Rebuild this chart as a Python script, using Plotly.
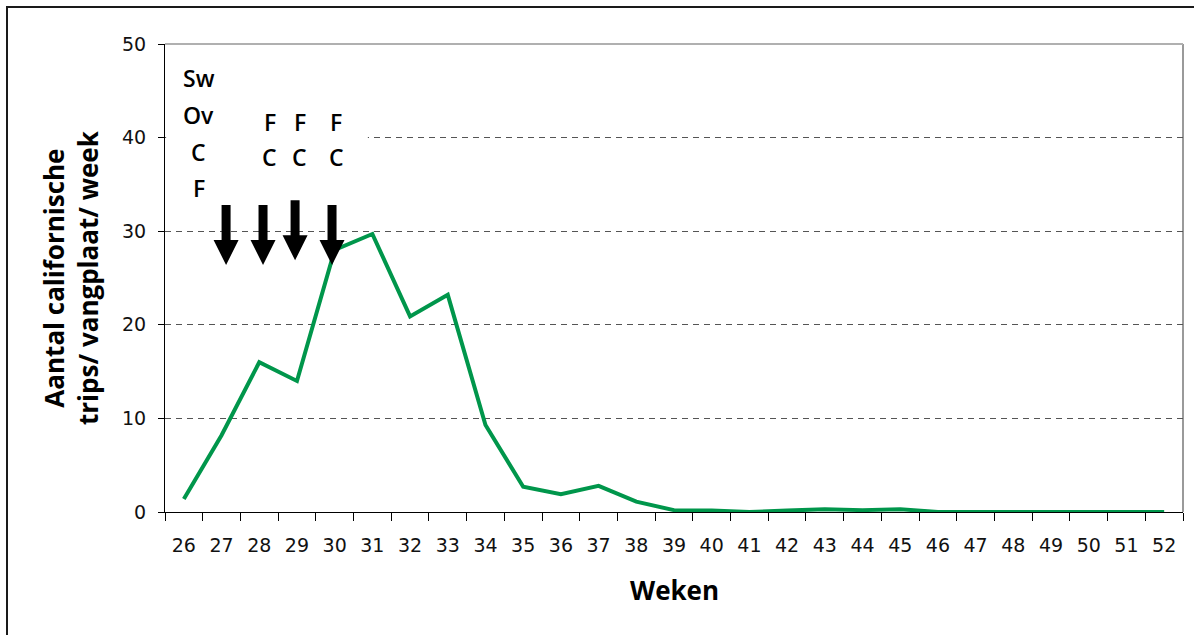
import plotly.graph_objects as go

# Weekly catches of Californian thrips per sticky trap
weeks = [str(w) for w in range(26, 53)]
thrips = [1.4, 8.2, 16.0, 14.0, 28.0, 29.7, 20.9, 23.2, 9.3, 2.7, 1.9, 2.8, 1.1,
          0.2, 0.15, 0.0, 0.15, 0.3, 0.2, 0.3, 0.0, 0.0, 0.1, 0.1, 0.0, 0.0, 0.0]
y_ticks = [0, 10, 20, 30, 40, 50]

# Treatment labels (week position, height in catch units)
left_labels = ["Sw", "Ov", "C", "F"]
left_week = 26.4
left_y = [46.4, 42.4, 38.5, 34.6]
col_weeks = [28.28, 29.08, 30.04]
row_labels = ["F", "C"]
row_y = [41.7, 37.9]

# Treatment moments (arrows)
arrow_weeks = [27.12, 28.1, 28.95, 29.93]
arrow_top = [32.8, 32.8, 33.3, 32.8]

W, H = 1194, 635
ML, MR, MT, MB = 165, 11, 44, 123
PW, PH = W - ML - MR, H - MT - MB


def px_x(px):
    return (px - ML) / PW


def px_y(py):
    return (H - MB - py) / PH


FONT = "Open Sans"
TICK_FONT = "DejaVu Sans"
GREEN = "#00964B"

fig = go.Figure()
fig.add_trace(go.Scatter(
    x=weeks, y=thrips, mode="lines",
    line=dict(color=GREEN, width=4), hoverinfo="skip", showlegend=False,
))

shapes = []
# white panel behind the treatment labels
shapes.append(dict(type="rect", xref="x", yref="y", x0=-0.47, x1=4.88, y0=34.2, y1=47.5,
                   fillcolor="white", line=dict(width=0), layer="between"))
# gray plot-area border (top and right)
shapes.append(dict(type="line", xref="paper", yref="paper", x0=1, x1=1, y0=0, y1=1,
                   line=dict(color="#9a9a9a", width=2), layer="below"))
shapes.append(dict(type="line", xref="paper", yref="paper", x0=0, x1=1, y0=1, y1=1,
                   line=dict(color="#b0b0b0", width=2), layer="below"))
# outer frame
shapes.append(dict(type="path", xref="paper", yref="paper",
                   path=f"M {px_x(7)},{px_y(640)} L {px_x(7)},{px_y(7)} L {px_x(1200)},{px_y(7)}",
                   line=dict(color="#1a1a1a", width=2)))
# treatment arrows
arrow_path = "M -4.5,0 L 4.5,0 L 4.5,-35 L 12.5,-35 L 0,-60 L -12.5,-35 L -4.5,-35 Z"
for wk, top in zip(arrow_weeks, arrow_top):
    shapes.append(dict(type="path", xref="x", yref="y",
                       xsizemode="pixel", ysizemode="pixel",
                       xanchor=wk - 26, yanchor=top,
                       path=arrow_path, fillcolor="black",
                       line=dict(width=0), layer="above"))

annotations = []
lab_font = dict(family=FONT, size=23, color="black", weight=600)
for txt, yv in zip(left_labels, left_y):
    annotations.append(dict(x=left_week - 26, y=yv, xref="x", yref="y", text=txt,
                            showarrow=False, font=lab_font, xanchor="center", yanchor="middle"))
for wk in col_weeks:
    for txt, yv in zip(row_labels, row_y):
        annotations.append(dict(x=wk - 26, y=yv, xref="x", yref="y", text=txt,
                                showarrow=False, font=lab_font, xanchor="center", yanchor="middle"))

title_font = dict(family=FONT, size=26, color="black", weight=700)
annotations.append(dict(x=px_x(674), y=px_y(590), xref="paper", yref="paper", text="Weken",
                        showarrow=False, font=title_font, xanchor="center", yanchor="middle"))
annotations.append(dict(x=px_x(71), y=0.5, xref="paper", yref="paper",
                        text="Aantal californische<br>trips/ vangplaat/ week",
                        textangle=-90, showarrow=False, font=title_font,
                        xanchor="center", yanchor="middle"))

fig.update_layout(
    width=W, height=H,
    margin=dict(l=ML, r=MR, t=MT, b=MB, pad=0),
    paper_bgcolor="white", plot_bgcolor="white",
    font=dict(family=FONT, color="#111"),
    shapes=shapes, annotations=annotations,
    xaxis=dict(
        type="category", range=[-0.5, 26.5], tickson="boundaries",
        ticks="outside", ticklen=8, tickcolor="black", tickwidth=1,
        showline=True, linecolor="black", linewidth=1,
        showgrid=False, zeroline=False,
        tickfont=dict(family=TICK_FONT, size=19, color="#111"),
        ticklabelstandoff=16,
    ),
    yaxis=dict(
        range=[0, 50], tickvals=y_ticks,
        ticks="outside", ticklen=6, tickcolor="black", tickwidth=1,
        showline=True, linecolor="black", linewidth=1,
        showgrid=True, gridcolor="#555", gridwidth=1, griddash="6px,5px",
        zeroline=False,
        tickfont=dict(family=TICK_FONT, size=19, color="#111"),
        ticklabelstandoff=8,
    ),
)

fig.write_html("out.html")
